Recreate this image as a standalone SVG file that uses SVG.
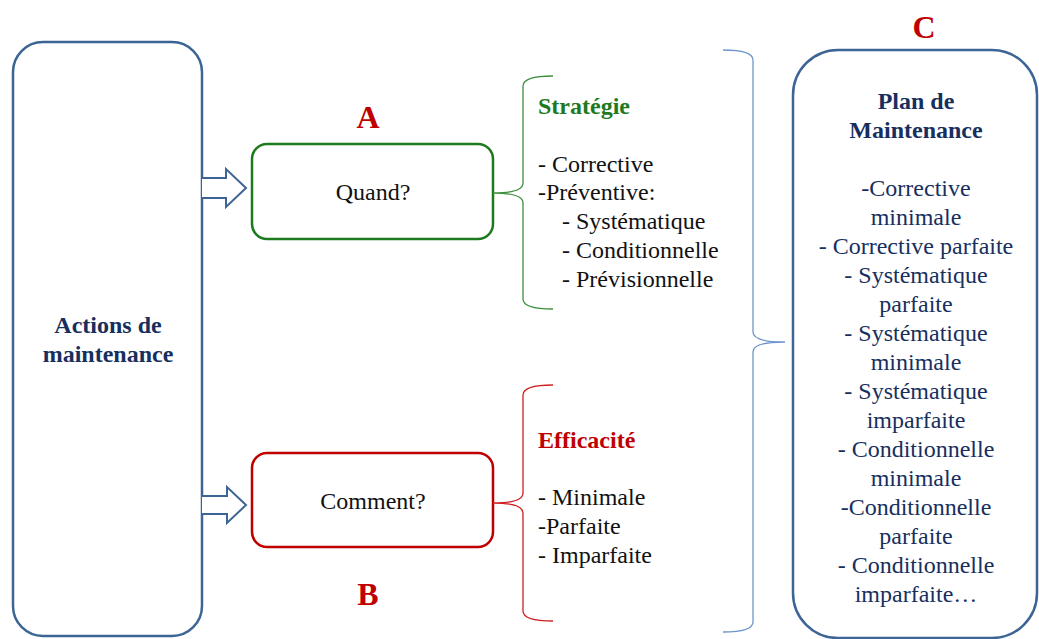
<svg xmlns="http://www.w3.org/2000/svg" width="1039" height="639" viewBox="0 0 1039 639">
<style>
text{font-family:"Liberation Serif","Times New Roman",serif;font-size:24px}
.b{font-weight:bold}
.navy{fill:#172f5e}
.blk{fill:#111}
.big{font-size:32px;font-weight:bold;fill:#c00000}
.frame{fill:#fff;stroke:#3c6494;stroke-width:2.5}
.arrow{fill:#fff;stroke:#3c6494;stroke-width:2;stroke-linejoin:miter}
.brace{fill:none;stroke-width:1.3}
</style>
<rect width="1039" height="639" fill="#fff"/>
<g id="actions">
<rect class="frame" x="13" y="42" width="189" height="594" rx="30"/>
<text class="b navy" x="108" y="333" text-anchor="middle">Actions de</text>
<text class="b navy" x="108" y="362" text-anchor="middle">maintenance</text>
</g>
<g id="quand">
<rect x="252" y="144" width="241" height="95" rx="15" fill="#fff" stroke="#1e7a1e" stroke-width="2.5"/>
<text class="blk" x="373" y="200" text-anchor="middle">Quand?</text>
<text class="big" x="368" y="128" text-anchor="middle">A</text>
</g>
<g id="comment">
<rect x="252" y="453" width="241" height="94" rx="15" fill="#fff" stroke="#c00000" stroke-width="2.5"/>
<text class="blk" x="373" y="509" text-anchor="middle">Comment?</text>
<text class="big" x="368" y="605" text-anchor="middle">B</text>
</g>
<g id="strategie">
<text class="b" x="538" y="114" fill="#1e7a1e">Stratégie</text>
<text class="blk" x="538" y="172">- Corrective</text>
<text class="blk" x="538" y="200">-Préventive:</text>
<text class="blk" x="562" y="229">- Systématique</text>
<text class="blk" x="562" y="258">- Conditionnelle</text>
<text class="blk" x="562" y="287">- Prévisionnelle</text>
</g>
<g id="efficacite">
<text class="b" x="538" y="448" fill="#c00000">Efficacité</text>
<text class="blk" x="538" y="505">- Minimale</text>
<text class="blk" x="538" y="534">-Parfaite</text>
<text class="blk" x="538" y="563">- Imparfaite</text>
</g>
<g id="plan">
<rect class="frame" x="793" y="50" width="244" height="588" rx="45"/>
<text class="big" x="924" y="38" text-anchor="middle">C</text>
<g class="navy" text-anchor="middle">
<text class="b" x="916" y="109">Plan de</text>
<text class="b" x="916" y="138">Maintenance</text>
<text x="916" y="196">-Corrective</text>
<text x="916" y="225">minimale</text>
<text x="916" y="254">- Corrective parfaite</text>
<text x="916" y="283">- Systématique</text>
<text x="916" y="312">parfaite</text>
<text x="916" y="341">- Systématique</text>
<text x="916" y="370">minimale</text>
<text x="916" y="399">- Systématique</text>
<text x="916" y="428">imparfaite</text>
<text x="916" y="457">- Conditionnelle</text>
<text x="916" y="486">minimale</text>
<text x="916" y="515">-Conditionnelle</text>
<text x="916" y="544">parfaite</text>
<text x="916" y="573">- Conditionnelle</text>
<text x="916" y="602">imparfaite…</text>
</g>
</g>
<g id="connectors">
<path class="arrow" d="M202,178 H226 V169 L246,188 L226,207 V198 H202"/>
<path class="arrow" d="M202,496 H227 V487 L246,505 L227,523 V514 H202"/>
<path class="brace" stroke="#3e8f3e" d="M553,76 Q523,76 523,86 L523,183 Q523,193 493,193 Q523,193 523,203 L523,299 Q523,309 553,309"/>
<path class="brace" stroke="#d02020" d="M553,385 Q523,385 523,395 L523,493 Q523,503 493,503 Q523,503 523,513 L523,611 Q523,621 553,621"/>
<path class="brace" stroke="#6e96cc" d="M723,50 Q753,50 753,60 L753,332 Q753,342 785,342 Q753,342 753,352 L753,622 Q753,632 723,632"/>
</g>
</svg>
